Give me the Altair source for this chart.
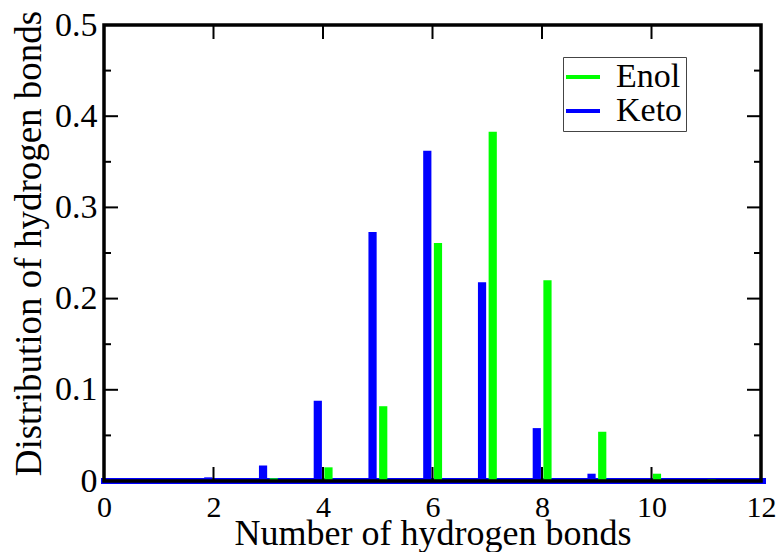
import altair as alt
import pandas as pd

# ---- data ----
n_bonds = [0, 1, 2, 3, 4, 5, 6, 7, 8, 9, 10, 11, 12]
keto = [0.0, 0.002, 0.004, 0.017, 0.088, 0.273, 0.362, 0.218, 0.058, 0.008, 0.002, 0.001, 0.0]
enol = [0.0, 0.0, 0.001, 0.003, 0.015, 0.082, 0.261, 0.383, 0.220, 0.054, 0.008, 0.002, 0.0]
series_names = ["Enol", "Keto"]
series_colors = ["#00ff00", "#0000ff"]
x_ticks = [0, 2, 4, 6, 8, 10, 12]
y_major = [0, 0.1, 0.2, 0.3, 0.4, 0.5]
y_minor = [0.05, 0.15, 0.25, 0.35, 0.45]

FONT = "Liberation Serif"
W, H = 657, 456

rows = []
for n, k, e in zip(n_bonds, keto, enol):
    rows.append({"n": n, "series": "Keto", "value": k, "off": -0.095})
    rows.append({"n": n, "series": "Enol", "value": e, "off": 0.1})
df = pd.DataFrame(rows)

xscale = alt.Scale(domain=[0, 12], nice=False, zero=False)
yscale = alt.Scale(domain=[0, 0.5], nice=False)

xaxis = alt.Axis(
    title="Number of hydrogen bonds", values=x_ticks, format="d",
    ticks=False, domain=False, grid=False, labelPadding=11,
    labelFont=FONT, labelFontSize=30, labelColor="black",
    titleFont=FONT, titleFontSize=36, titleColor="black", titleFontWeight="normal",
    titleBaseline="alphabetic", titleY=63, labelFlush=False)
yaxis = alt.Axis(
    title="Distribution of hydrogen bonds", values=y_major, format=".1~f",
    ticks=False, domain=False, grid=False, labelPadding=7,
    labelFont=FONT, labelFontSize=34, labelColor="black",
    titleFont=FONT, titleFontSize=37, titleColor="black", titleFontWeight="normal",
    titlePadding=6, titleY=218, labelFlush=False)

bars = alt.Chart(df).transform_calculate(
    x1="datum.n + datum.off - 0.075", x2="datum.n + datum.off + 0.075"
).mark_bar().encode(
    x=alt.X("x1:Q", scale=xscale, axis=xaxis),
    x2="x2:Q",
    y=alt.Y("value:Q", scale=yscale, axis=yaxis),
    y2=alt.datum(0),
    color=alt.Color("series:N", scale=alt.Scale(domain=series_names, range=series_colors),
                    legend=alt.Legend(
                        title=None, orient="none", legendX=459, legendY=32,
                        symbolType="M-1,-0.12H1V0.12H-1Z", symbolSize=1156,
                        symbolStrokeWidth=0, labelFont=FONT, labelFontSize=34,
                        labelColor="black", labelOffset=16, rowPadding=0,
                        padding=3, strokeColor="#444", fillColor="white",
                        labelLimit=200)),
)

baseline = alt.Chart(pd.DataFrame({"v": [0]})).mark_rule(color="#0000ff", strokeWidth=6).encode(
    y=alt.Y("v:Q", scale=yscale, axis=None), x=alt.value(-3), x2=alt.value(W + 5)
)

xt = pd.DataFrame({"t": x_ticks})
xt_bottom = alt.Chart(xt).mark_rule(color="black", strokeWidth=2).encode(
    x=alt.X("t:Q", scale=xscale, axis=None), y=alt.value(H), y2=alt.value(H - 14))
xt_top = alt.Chart(xt).mark_rule(color="black", strokeWidth=2).encode(
    x=alt.X("t:Q", scale=xscale, axis=None), y=alt.value(0), y2=alt.value(14))

ym = pd.DataFrame({"t": y_major})
yn = pd.DataFrame({"t": y_minor})
ym_left = alt.Chart(ym).mark_rule(color="black", strokeWidth=2).encode(
    y=alt.Y("t:Q", scale=yscale, axis=None), x=alt.value(0), x2=alt.value(14))
ym_right = alt.Chart(ym).mark_rule(color="black", strokeWidth=2).encode(
    y=alt.Y("t:Q", scale=yscale, axis=None), x=alt.value(W), x2=alt.value(W - 14))
yn_left = alt.Chart(yn).mark_rule(color="black", strokeWidth=2).encode(
    y=alt.Y("t:Q", scale=yscale, axis=None), x=alt.value(0), x2=alt.value(7))
yn_right = alt.Chart(yn).mark_rule(color="black", strokeWidth=2).encode(
    y=alt.Y("t:Q", scale=yscale, axis=None), x=alt.value(W), x2=alt.value(W - 7))

frame = alt.Chart(pd.DataFrame({"v": [0]})).mark_rect(
    fill=None, stroke="black", strokeWidth=3.5
).encode(x=alt.value(0), x2=alt.value(W), y=alt.value(0), y2=alt.value(H))

chart = alt.layer(
    baseline, bars, xt_bottom, xt_top, ym_left, ym_right, yn_left, yn_right, frame
).resolve_axis(x="independent", y="independent").properties(
    width=W, height=H,
    autosize=alt.AutoSizeParams(type="none"),
    padding={"left": 104, "top": 25, "right": 17, "bottom": 71},
    background="white",
).configure_view(stroke=None).configure_axis(labelFont=FONT, titleFont=FONT)

chart.save("out.html", embed_options={"renderer": "svg", "actions": False})
